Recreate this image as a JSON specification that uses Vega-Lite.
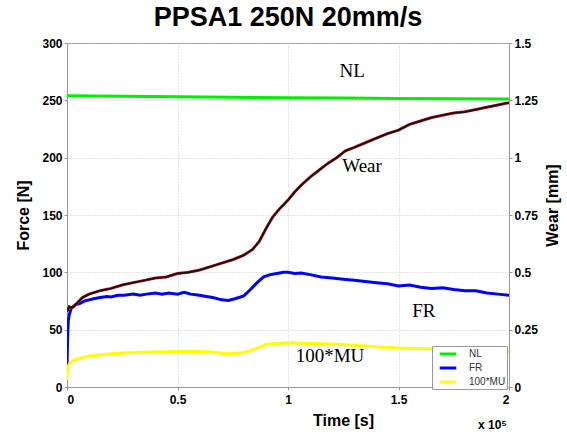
{
  "$schema": "https://vega.github.io/schema/vega-lite/v6.json",
  "autosize": "none",
  "width": 442,
  "height": 344,
  "padding": {"left": 67, "top": 43, "right": 58, "bottom": 45},
  "background": "white",
  "title": {"text": "PPSA1 250N 20mm/s", "font": "Liberation Sans", "fontSize": 27, "fontWeight": "bold", "color": "black", "anchor": "middle", "offset": 5},
  "config": {
    "view": {"stroke": "#999999", "strokeWidth": 1},
    "axis": {"labelFont": "Liberation Sans", "labelFontSize": 12, "labelFontWeight": "bold", "labelColor": "black", "titleFont": "Liberation Sans", "titleFontSize": 16, "titleFontWeight": "bold", "titleColor": "black", "domainColor": "#999999", "tickColor": "#999999", "tickSize": 3, "gridColor": "#c8c8c8", "gridDash": [1, 2], "gridWidth": 1}
  },
  "datasets": {
    "force": [
      {"t": 0, "v": 254, "s": "NL"}, {"t": 0.25, "v": 253.6, "s": "NL"}, {"t": 0.5, "v": 253.1, "s": "NL"}, {"t": 0.75, "v": 252.7, "s": "NL"}, {"t": 1.0, "v": 252.3, "s": "NL"}, {"t": 1.25, "v": 252.0, "s": "NL"}, {"t": 1.5, "v": 251.7, "s": "NL"}, {"t": 1.75, "v": 251.4, "s": "NL"}, {"t": 2.0, "v": 251.1, "s": "NL"},
      {"t": 0, "v": 17, "s": "FR"}, {"t": 0.003, "v": 45, "s": "FR"}, {"t": 0.006, "v": 58, "s": "FR"}, {"t": 0.01, "v": 63, "s": "FR"}, {"t": 0.02, "v": 69, "s": "FR"}, {"t": 0.04, "v": 72, "s": "FR"}, {"t": 0.06, "v": 73, "s": "FR"}, {"t": 0.08, "v": 75, "s": "FR"}, {"t": 0.1, "v": 76, "s": "FR"}, {"t": 0.12, "v": 77, "s": "FR"}, {"t": 0.15, "v": 78, "s": "FR"}, {"t": 0.18, "v": 79, "s": "FR"}, {"t": 0.2, "v": 78.5, "s": "FR"}, {"t": 0.23, "v": 80, "s": "FR"}, {"t": 0.26, "v": 80, "s": "FR"}, {"t": 0.3, "v": 81, "s": "FR"}, {"t": 0.33, "v": 80, "s": "FR"}, {"t": 0.36, "v": 81, "s": "FR"}, {"t": 0.4, "v": 82, "s": "FR"}, {"t": 0.43, "v": 81, "s": "FR"}, {"t": 0.46, "v": 82, "s": "FR"}, {"t": 0.5, "v": 81, "s": "FR"}, {"t": 0.53, "v": 82.5, "s": "FR"}, {"t": 0.56, "v": 81, "s": "FR"}, {"t": 0.6, "v": 80, "s": "FR"}, {"t": 0.63, "v": 79, "s": "FR"}, {"t": 0.66, "v": 78, "s": "FR"}, {"t": 0.7, "v": 76, "s": "FR"}, {"t": 0.73, "v": 75.5, "s": "FR"}, {"t": 0.76, "v": 77, "s": "FR"}, {"t": 0.8, "v": 79.5, "s": "FR"}, {"t": 0.83, "v": 85, "s": "FR"}, {"t": 0.86, "v": 91, "s": "FR"}, {"t": 0.89, "v": 96, "s": "FR"}, {"t": 0.92, "v": 98, "s": "FR"}, {"t": 0.95, "v": 99, "s": "FR"}, {"t": 0.98, "v": 100, "s": "FR"}, {"t": 1.0, "v": 100, "s": "FR"}, {"t": 1.03, "v": 99, "s": "FR"}, {"t": 1.06, "v": 99.5, "s": "FR"}, {"t": 1.1, "v": 98, "s": "FR"}, {"t": 1.15, "v": 96, "s": "FR"}, {"t": 1.2, "v": 95, "s": "FR"}, {"t": 1.25, "v": 94, "s": "FR"}, {"t": 1.3, "v": 93, "s": "FR"}, {"t": 1.35, "v": 92, "s": "FR"}, {"t": 1.4, "v": 91, "s": "FR"}, {"t": 1.45, "v": 90, "s": "FR"}, {"t": 1.5, "v": 88, "s": "FR"}, {"t": 1.55, "v": 89, "s": "FR"}, {"t": 1.6, "v": 87, "s": "FR"}, {"t": 1.65, "v": 86, "s": "FR"}, {"t": 1.7, "v": 86.5, "s": "FR"}, {"t": 1.75, "v": 85, "s": "FR"}, {"t": 1.8, "v": 84, "s": "FR"}, {"t": 1.85, "v": 84, "s": "FR"}, {"t": 1.9, "v": 82, "s": "FR"}, {"t": 1.95, "v": 81, "s": "FR"}, {"t": 2.0, "v": 80, "s": "FR"},
      {"t": 0, "v": 6, "s": "100*MU"}, {"t": 0.003, "v": 14, "s": "100*MU"}, {"t": 0.006, "v": 18, "s": "100*MU"}, {"t": 0.01, "v": 20, "s": "100*MU"}, {"t": 0.02, "v": 22, "s": "100*MU"}, {"t": 0.04, "v": 24, "s": "100*MU"}, {"t": 0.06, "v": 25, "s": "100*MU"}, {"t": 0.1, "v": 27, "s": "100*MU"}, {"t": 0.15, "v": 28, "s": "100*MU"}, {"t": 0.2, "v": 29, "s": "100*MU"}, {"t": 0.3, "v": 30, "s": "100*MU"}, {"t": 0.4, "v": 30.5, "s": "100*MU"}, {"t": 0.5, "v": 31, "s": "100*MU"}, {"t": 0.6, "v": 31, "s": "100*MU"}, {"t": 0.65, "v": 30.5, "s": "100*MU"}, {"t": 0.7, "v": 29.5, "s": "100*MU"}, {"t": 0.75, "v": 29, "s": "100*MU"}, {"t": 0.8, "v": 30, "s": "100*MU"}, {"t": 0.85, "v": 33, "s": "100*MU"}, {"t": 0.9, "v": 37, "s": "100*MU"}, {"t": 0.95, "v": 38, "s": "100*MU"}, {"t": 1.0, "v": 38.5, "s": "100*MU"}, {"t": 1.1, "v": 38, "s": "100*MU"}, {"t": 1.2, "v": 37.5, "s": "100*MU"}, {"t": 1.3, "v": 36.5, "s": "100*MU"}, {"t": 1.4, "v": 35, "s": "100*MU"}, {"t": 1.5, "v": 34, "s": "100*MU"}, {"t": 1.6, "v": 33.5, "s": "100*MU"}, {"t": 1.7, "v": 33, "s": "100*MU"}, {"t": 1.8, "v": 32, "s": "100*MU"}, {"t": 1.9, "v": 31.5, "s": "100*MU"}, {"t": 2.0, "v": 31, "s": "100*MU"}
    ],
    "wear": [
      {"t": 0, "w": 0.33}, {"t": 0.01, "w": 0.35}, {"t": 0.02, "w": 0.345}, {"t": 0.03, "w": 0.35}, {"t": 0.05, "w": 0.37}, {"t": 0.07, "w": 0.39}, {"t": 0.1, "w": 0.405}, {"t": 0.15, "w": 0.42}, {"t": 0.2, "w": 0.43}, {"t": 0.25, "w": 0.445}, {"t": 0.3, "w": 0.455}, {"t": 0.35, "w": 0.465}, {"t": 0.4, "w": 0.475}, {"t": 0.45, "w": 0.48}, {"t": 0.5, "w": 0.495}, {"t": 0.55, "w": 0.5}, {"t": 0.6, "w": 0.51}, {"t": 0.65, "w": 0.525}, {"t": 0.7, "w": 0.54}, {"t": 0.75, "w": 0.555}, {"t": 0.8, "w": 0.575}, {"t": 0.84, "w": 0.6}, {"t": 0.87, "w": 0.635}, {"t": 0.9, "w": 0.69}, {"t": 0.93, "w": 0.74}, {"t": 0.96, "w": 0.775}, {"t": 1.0, "w": 0.815}, {"t": 1.03, "w": 0.85}, {"t": 1.06, "w": 0.88}, {"t": 1.1, "w": 0.915}, {"t": 1.14, "w": 0.945}, {"t": 1.18, "w": 0.975}, {"t": 1.22, "w": 1.0}, {"t": 1.26, "w": 1.03}, {"t": 1.3, "w": 1.045}, {"t": 1.35, "w": 1.065}, {"t": 1.4, "w": 1.085}, {"t": 1.45, "w": 1.105}, {"t": 1.5, "w": 1.12}, {"t": 1.55, "w": 1.145}, {"t": 1.6, "w": 1.16}, {"t": 1.65, "w": 1.175}, {"t": 1.7, "w": 1.185}, {"t": 1.75, "w": 1.195}, {"t": 1.8, "w": 1.2}, {"t": 1.85, "w": 1.21}, {"t": 1.9, "w": 1.22}, {"t": 1.95, "w": 1.23}, {"t": 2.0, "w": 1.24}
    ],
    "notes": [
      {"t": 1.29, "v": 276, "label": "NL"}, {"t": 1.335, "v": 193, "label": "Wear"}, {"t": 1.615, "v": 66, "label": "FR"}, {"t": 1.19, "v": 27, "label": "100*MU"}
    ]
  },
  "layer": [
    {
      "layer": [
        {
          "data": {"name": "force"},
          "mark": {"type": "line", "strokeWidth": 3, "clip": true},
          "encoding": {
            "x": {"field": "t", "type": "quantitative", "scale": {"domain": [0, 2], "nice": false}, "axis": {"title": "Time [s]", "values": [0, 0.5, 1, 1.5, 2], "format": ".1~f", "grid": true, "labelPadding": 4, "titleX": 276, "titleY": 38, "titleBaseline": "alphabetic"}},
            "y": {"field": "v", "type": "quantitative", "scale": {"domain": [0, 300], "nice": false}, "axis": {"title": "Force [N]", "values": [0, 50, 100, 150, 200, 250, 300], "grid": true, "labelPadding": 2, "titlePadding": 10}},
            "color": {"field": "s", "type": "nominal", "scale": {"domain": ["NL", "FR", "100*MU"], "range": ["#00ee00", "#0000ff", "#ffff00"]},
              "legend": {"title": null, "orient": "none", "legendX": 365, "legendY": 303, "strokeColor": "#999999", "fillColor": "white", "padding": 1, "symbolType": "M-1.5,0H1.5", "symbolStrokeWidth": 3, "symbolSize": 121, "symbolOffset": 8, "labelFont": "Liberation Sans", "labelFontSize": 10, "labelColor": "#333333", "rowPadding": 1, "labelOffset": 14}}
          }
        },
        {
          "data": {"name": "notes"},
          "mark": {"type": "text", "font": "Liberation Serif", "fontSize": 19, "color": "black", "align": "center", "baseline": "middle"},
          "encoding": {
            "x": {"field": "t", "type": "quantitative"},
            "y": {"field": "v", "type": "quantitative"},
            "text": {"field": "label"}
          }
        },
        {
          "data": {"values": [{}]},
          "mark": {"type": "text", "text": "x 10⁵", "font": "Liberation Sans", "fontSize": 12, "fontWeight": "bold", "align": "right", "baseline": "alphabetic", "dy": 42, "dx": -2, "color": "black"},
          "encoding": {"x": {"datum": 2}, "y": {"datum": 0}}
        }
      ]
    },
    {
      "data": {"name": "wear"},
      "layer": [
        {"mark": {"type": "line", "color": "#cc2222", "strokeWidth": 3, "clip": true}, "encoding": {"x": {"field": "t", "type": "quantitative"}, "y": {"field": "w", "type": "quantitative"}}},
        {"mark": {"type": "line", "color": "#111111", "strokeWidth": 1.8, "clip": true}, "encoding": {"x": {"field": "t", "type": "quantitative"},
          "y": {"field": "w", "type": "quantitative", "scale": {"domain": [0, 1.5], "nice": false}, "axis": {"orient": "right", "title": "Wear [mm]", "values": [0, 0.25, 0.5, 0.75, 1, 1.25, 1.5], "format": ".2~f", "grid": false, "labelPadding": 2, "titleAngle": 270, "titleX": 43, "titleY": 162, "titleAlign": "center", "titleBaseline": "middle"}}}}
      ]
    }
  ],
  "resolve": {"scale": {"y": "independent"}}
}
